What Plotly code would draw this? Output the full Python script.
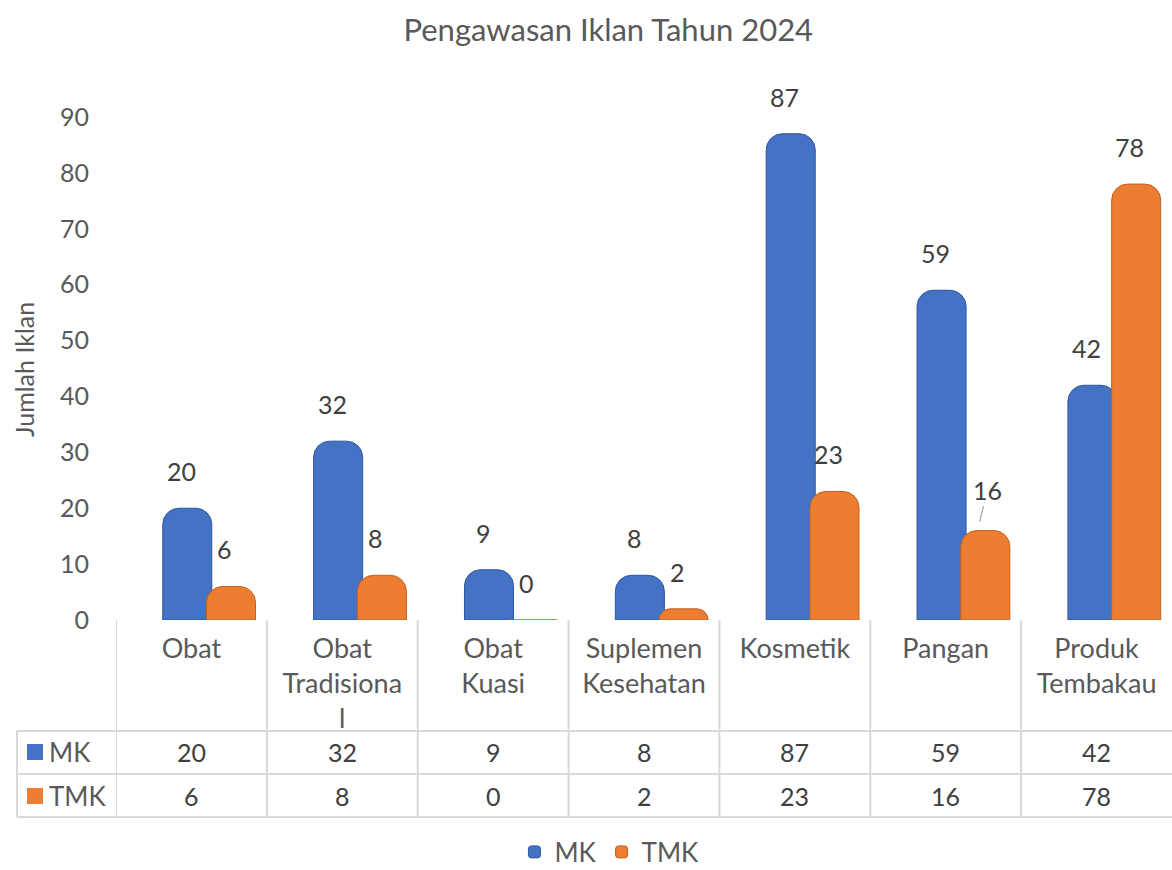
import plotly.graph_objects as go

categories = ["Obat", "Obat Tradisional", "Obat Kuasi", "Suplemen Kesehatan",
              "Kosmetik", "Pangan", "Produk Tembakau"]
tick_labels = ["Obat", "Obat<br>Tradisiona<br>l", "Obat<br>Kuasi", "Suplemen<br>Kesehatan",
               "Kosmetik", "Pangan", "Produk<br>Tembakau"]
mk = [20, 32, 9, 8, 87, 59, 42]
tmk = [6, 8, 0, 2, 23, 16, 78]
series_names = ["MK", "TMK"]

BLUE = "#4472C4"
ORANGE = "#ED7D31"
TXT = "#595959"
LBL = "#404040"
GRID = "#D9D9D9"
FONT = "Lato"

W, H = 1172, 870
def py(px):
    return 1 - px / H

x_idx = list(range(len(categories)))

fig = go.Figure()
fig.add_trace(go.Bar(
    x=x_idx, y=mk, name=series_names[0], offset=-0.19, width=0.325,
    marker=dict(color=BLUE, cornerradius=16, line=dict(color="#2F559E", width=1)),
))
fig.add_trace(go.Bar(
    x=x_idx, y=tmk, name=series_names[1], offset=0.10, width=0.325,
    marker=dict(color=ORANGE, cornerradius=16, line=dict(color="#C0601F", width=1)),
))

annotations = []
lab_font = dict(family=FONT, size=25, color=LBL)
# data labels
for i, v in enumerate(mk):
    annotations.append(dict(x=i - 0.066, y=v, xref="x", yref="y", text=str(v), showarrow=False,
                            xanchor="center", yanchor="middle", yshift=37, font=lab_font))
for i, v in enumerate(tmk):
    if categories[i] == "Pangan":
        # label moved away with a leader line
        annotations.append(dict(x=i + 0.225, y=v, xref="x", yref="y", text=str(v), showarrow=True,
                                arrowhead=0, arrowwidth=1.2, arrowcolor="#A6A6A6", ax=8, ay=-32,
                                yshift=9, font=lab_font))
    else:
        annotations.append(dict(x=i + 0.22, y=v, xref="x", yref="y", text=str(v), showarrow=False,
                                xanchor="center", yanchor="middle", yshift=37, font=lab_font))

# data table values
row_y = [py(752), py(796)]
for r, vals in enumerate([mk, tmk]):
    for i, v in enumerate(vals):
        annotations.append(dict(x=i, y=row_y[r], xref="x", yref="paper", text=str(v),
                                xanchor="center", yanchor="middle",
                                showarrow=False, font=lab_font))
    annotations.append(dict(x=47 / W, y=row_y[r], xref="paper", yref="paper", text=series_names[r],
                            xanchor="left", yanchor="middle", showarrow=False,
                            font=dict(family=FONT, size=26, color=TXT)))

# y-axis title
annotations.append(dict(x=24 / W, y=py(370), xref="paper", yref="paper", text="Jumlah Iklan",
                        xanchor="center", yanchor="middle",
                        textangle=-90, showarrow=False, font=dict(family=FONT, size=25, color=TXT)))

shapes = []
# table grid
for i in range(len(categories)):
    shapes.append(dict(type="line", xref="x", yref="paper", x0=i - 0.5, x1=i - 0.5,
                       y0=py(817), y1=py(620), line=dict(color=GRID, width=2)))
shapes.append(dict(type="line", xref="paper", yref="paper", x0=17 / W, x1=17 / W,
                   y0=py(817), y1=py(731), line=dict(color=GRID, width=2)))
for ypx in [731, 774, 817]:
    shapes.append(dict(type="line", xref="paper", yref="paper", x0=17 / W, x1=1,
                       y0=py(ypx), y1=py(ypx), line=dict(color=GRID, width=2)))
# legend keys in table
for r, col in enumerate([BLUE, ORANGE]):
    cy = [752, 796][r]
    shapes.append(dict(type="rect", xref="paper", yref="paper", x0=27 / W, x1=43 / W,
                       y0=py(cy + 8), y1=py(cy - 8), fillcolor=col, line=dict(width=0)))

fig.update_layout(
    width=W, height=H,
    barmode="overlay",
    paper_bgcolor="white", plot_bgcolor="white",
    margin=dict(l=0, r=0, t=0, b=0, autoexpand=False),
    title=dict(text="Pengawasan Iklan Tahun 2024", x=0.519, xanchor="center",
               y=py(30), yanchor="middle", font=dict(family=FONT, size=31, color=TXT)),
    xaxis=dict(domain=[116 / W, 1], range=[-0.5, 6.5], tickmode="array", tickvals=x_idx,
               ticktext=tick_labels, showgrid=False, zeroline=False, showline=False,
               ticks="", ticklabelstandoff=10, automargin=False,
               tickfont=dict(family=FONT, size=27, color=TXT)),
    yaxis=dict(domain=[py(620), py(117)], range=[0, 90], dtick=10, showgrid=False,
               zeroline=False, showline=False, ticks="", ticklabelstandoff=26, automargin=False,
               tickfont=dict(family=FONT, size=25, color=TXT)),
    legend=dict(orientation="h", x=0.52, xanchor="center", y=py(852), yanchor="middle",
                font=dict(family=FONT, size=26, color=TXT)),
    annotations=annotations,
    shapes=shapes,
    showlegend=True,
)

fig.write_html("out.html", config={"displayModeBar": False},
               post_script="document.body.style.margin='0';document.body.style.overflow='hidden';")
